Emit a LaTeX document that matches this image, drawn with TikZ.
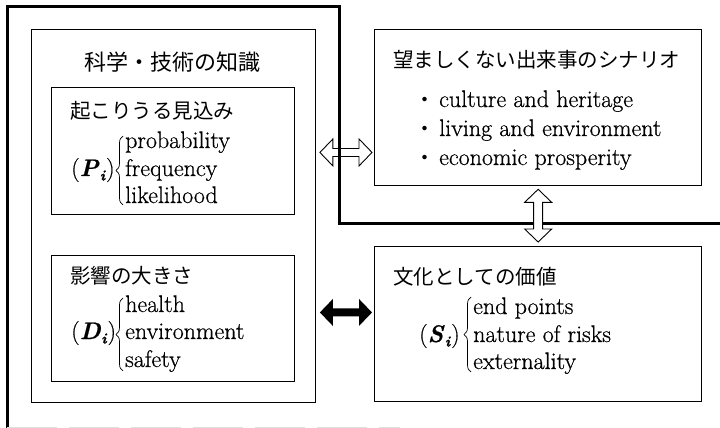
\documentclass[tikz,border=0pt]{standalone}
\usepackage{fontspec}
\setmainfont{Latin Modern Roman}[FakeBold=0.6]
\usetikzlibrary{calc,decorations.pathreplacing}
\newfontfamily\jp{Noto Sans CJK JP}
\newcommand\bisub[1]{(\textbf{\textit{#1}}\kern0.3pt\raisebox{-4.5pt}{\fontsize{15}{18}\selectfont\textbf{\textit{i}}}\kern0.3pt)}
\newcommand\dblH[3]{%
  \path[#3] let \p1=(#1), \p2=(#2) in
   (\x1,\y1) -- (\x1+13pt,\y1+13.5pt) -- (\x1+13pt,\y1+4pt) -- (\x2-13pt,\y1+4pt)
   -- (\x2-13pt,\y1+13.5pt) -- (\x2,\y1) -- (\x2-13pt,\y1-13.5pt) -- (\x2-13pt,\y1-4pt)
   -- (\x1+13pt,\y1-4pt) -- (\x1+13pt,\y1-13.5pt) -- cycle;}
\newcommand\dblV[3]{%
  \path[#3] let \p1=(#1), \p2=(#2) in
   (\x1,\y1) -- (\x1+13.5pt,\y1-13pt) -- (\x1+4.5pt,\y1-13pt) -- (\x1+4.5pt,\y2+13pt)
   -- (\x1+13.5pt,\y2+13pt) -- (\x1,\y2) -- (\x1-13.5pt,\y2+13pt) -- (\x1-4.5pt,\y2+13pt)
   -- (\x1-4.5pt,\y1-13pt) -- (\x1-13.5pt,\y1-13pt) -- cycle;}
\begin{document}
\begin{tikzpicture}[x=1pt,y=-1pt,
  thinbox/.style={draw, line width=0.9pt, inner sep=0, anchor=north west},
  rbox/.style={draw, line width=1.3pt, inner sep=0, anchor=north west},
  en/.style={font=\fontsize{24}{28}\selectfont, inner sep=0, anchor=base west},
  jph/.style={font=\jp\fontsize{20.5}{24}\selectfont, inner sep=0, anchor=west},
  brc/.style={decorate, decoration={brace, amplitude=7pt}, line width=0.7pt},
  hollow/.style={draw, fill=white, line width=0.9pt, line join=miter},
  solidarr/.style={fill=black}]
\useasboundingbox (0,0) rectangle (720,428);
% boxes
\node[thinbox, minimum width=284pt, minimum height=373pt] (kb) at (31,29) {};
\node[thinbox, minimum width=243pt, minimum height=127pt] (pb) at (51,87) {};
\node[thinbox, minimum width=243pt, minimum height=126pt] (db) at (51,255) {};
\node[rbox, minimum width=327pt, minimum height=156pt] (sc) at (374,29) {};
\node[rbox, minimum width=327pt, minimum height=155pt] (vb) at (374,246) {};
% arrow end points
\coordinate (a1) at ($(kb.east |- pb.center)+(4,1.5)$);
\coordinate (a2) at ($(sc.west |- pb.center)+(-2,1.5)$);
\coordinate (b1) at ($(kb.east |- db.center)+(4,-6)$);
\coordinate (b2) at ($(vb.west |- db.center)+(-2,-6)$);
\coordinate (v1) at ($(sc.south)+(0,3)$);
\coordinate (v2) at ($(vb.north)+(0,-4)$);
% horizontal hollow arrow (outer line passes over it)
\dblH{a1}{a2}{hollow}
% outer frame
\draw[line width=3pt, line join=miter] (7,428) -- (7,7) -- (339,7) -- (339,223) -- (720,223);
\draw[gray!25, line width=1pt, dash pattern=on 50pt off 12pt] (7,427) -- (400,427);
% vertical hollow arrow (covers outer line)
\dblV{v1}{v2}{hollow}
% black arrow
\dblH{b1}{b2}{solidarr}
% left texts
\node[font=\jp\fontsize{22}{26}\selectfont, inner sep=0] (t0) at (172,62) {科学・技術の知識};
\node[jph] (t1) at (70,111) {起こりうる見込み};
\node[en] (pi) at (71,176) {\bisub{P}};
\node[en] (p1) at (125,148) {probability};
\node[en] (p2) at (125,176) {frequency};
\node[en] (p3) at (125,203) {likelihood};
\draw[brc] (123,205) -- (123,136);
\node[jph] (t2) at (70,276) {影響の大きさ};
\node[en] (di) at (71,339) {\bisub{D}};
\node[en] (d1) at (125,312) {health};
\node[en] (d2) at (125,339) {environment};
\node[en] (d3) at (125,367) {safety};
\draw[brc] (123,371) -- (123,298);
% right texts
\node[jph] (t3) at (393,60) {望ましくない出来事のシナリオ};
\node[en] (s1) at (414.5,107) {{\jp\fontsize{21}{25}\selectfont ・}\kern3.5pt culture and heritage};
\node[en] (s2) at (414.5,136) {{\jp\fontsize{21}{25}\selectfont ・}\kern3.5pt living and environment};
\node[en] (s3) at (414.5,165) {{\jp\fontsize{21}{25}\selectfont ・}\kern3.5pt economic prosperity};
\node[jph] (t4) at (393,277) {文化としての価値};
\node[en] (si) at (419,342) {\bisub{S}};
\node[en] (e1) at (473,314) {end points};
\node[en] (e2) at (473,342) {nature of risks};
\node[en] (e3) at (473,369) {externality};
\draw[brc] (471,372) -- (471,297);
\end{tikzpicture}
\end{document}
